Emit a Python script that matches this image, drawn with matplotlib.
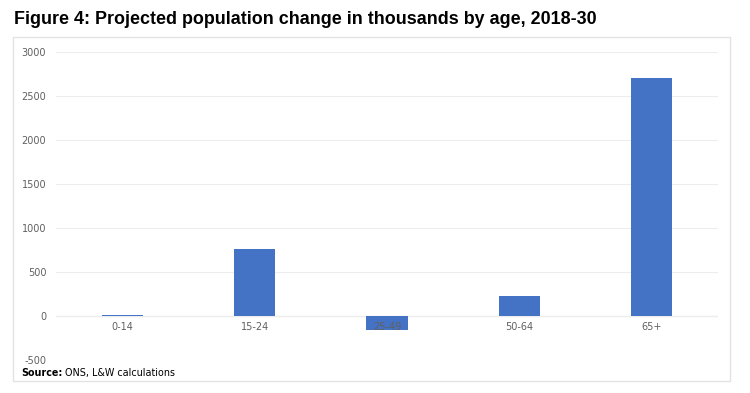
import matplotlib.pyplot as plt
from matplotlib.patches import Rectangle
from matplotlib.transforms import offset_copy

plt.rcParams['font.family'] = ['DejaVu Sans']
plt.rcParams['axes.unicode_minus'] = False

ages = ['0-14', '15-24', '25-49', '50-64', '65+']
change = [10, 760, -155, 230, 2705]
yticks = [-500, 0, 500, 1000, 1500, 2000, 2500, 3000]

W, H = 750, 393
fig = plt.figure(figsize=(7.5, 3.93), dpi=100)
ax = fig.add_axes([56 / W, 1 - 360 / H, (718 - 56) / W, (360 - 52) / H])

ax.bar(range(len(ages)), change, width=0.31, color='#4472C4', zorder=3)
ax.set_xlim(-0.5, len(ages) - 0.5)
ax.set_ylim(-500, 3000)
ax.set_yticks(yticks)
ax.yaxis.grid(True, color='#ededed', linewidth=0.8, zorder=0)
ax.axhline(0, color='#e0e0e0', linewidth=0.9, zorder=1)
ax.set_xticks([])
for s in ax.spines.values():
    s.set_visible(False)
ax.tick_params(axis='y', length=0, labelsize=7, labelcolor='#606060', pad=7)

# category labels sit just under the zero line
lab_tr = offset_copy(ax.transData, fig=fig, y=-11 * 0.72, units='points')
for i, lab in enumerate(ages):
    ax.text(i, 0, lab, ha='center', va='center', fontsize=7, color='#606060',
            transform=lab_tr, zorder=4)

fig.patches.append(Rectangle((13 / W, 1 - 381 / H), (730 - 13) / W, (381 - 37) / H,
                             transform=fig.transFigure, fill=False,
                             edgecolor='#e3e3e3', linewidth=1))
fig.text(14 / W, 1 - 20 / H, 'Figure 4: Projected population change in thousands by age, 2018-30',
         fontsize=12.9, fontweight='bold', va='center', ha='left', family='Liberation Sans')

src = fig.text(21 / W, 1 - 373 / H, 'Source:', fontsize=6.9, fontweight='bold',
               va='center', ha='left')
fig.canvas.draw()
bb = src.get_window_extent()
fig.text((bb.x1 + 3) / W, 1 - 373 / H, 'ONS, L&W calculations', fontsize=6.9,
         va='center', ha='left')

plt.savefig('out.png', dpi=100)
